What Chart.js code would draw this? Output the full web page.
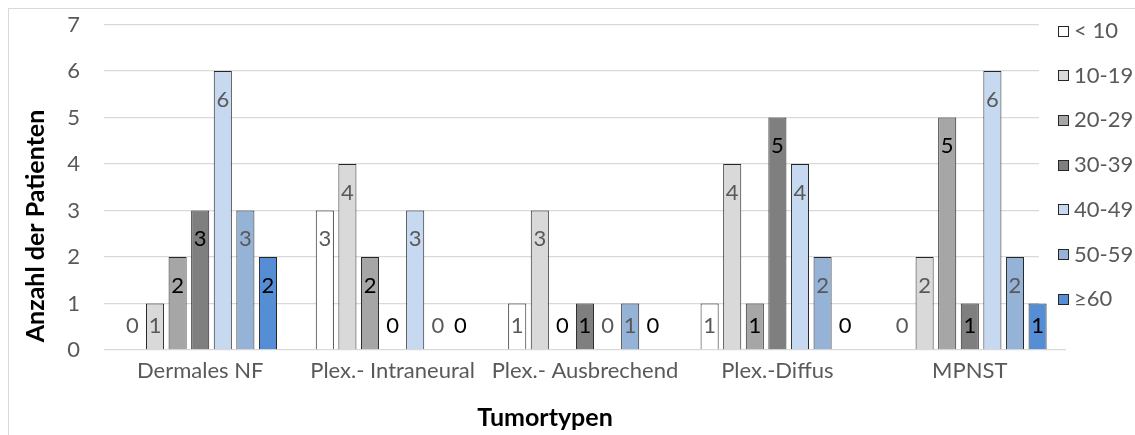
<!DOCTYPE html>
<html>
<head>
<meta charset="utf-8">
<script src="https://cdn.jsdelivr.net/npm/chart.js@4/dist/chart.umd.min.js"></script>
<style>
  html, body { margin: 0; padding: 0; background: #fff; }
  #wrap { width: 1135px; height: 435px; position: relative; }
</style>
</head>
<body>
<div id="wrap"><canvas id="c" width="1135" height="435"></canvas></div>
<script>
// Tumour types on the x axis
const categories = ['Dermales NF', 'Plex.- Intraneural', 'Plex.- Ausbrechend', 'Plex.-Diffus', 'MPNST'];
// Age groups (one series each)
const ageGroups = ['< 10', '10-19', '20-29', '30-39', '40-49', '50-59', '≥60'];
// Number of patients per tumour type, by age group
const under10   = [0, 3, 1, 1, 0];
const age10to19 = [1, 4, 3, 4, 2];
const age20to29 = [2, 2, 0, 1, 5];
const age30to39 = [3, 0, 1, 5, 1];
const age40to49 = [6, 3, 0, 4, 6];
const age50to59 = [3, 0, 1, 2, 2];
const age60plus = [2, 0, 0, 0, 1];
// Value axis
const yMin = 0;
const yMax = 7;
const yStep = 1;

const seriesValues = [under10, age10to19, age20to29, age30to39, age40to49, age50to59, age60plus];
const fills = ['#ffffff', '#d9d9d9', '#a6a6a6', '#7f7f7f', '#c6d9f1', '#95b3d7', '#558ed5'];
const labelColors = ['#595959', '#595959', '#000000', '#000000', '#595959', '#595959', '#000000'];

const FONT = 'Lato, "Open Sans", sans-serif';
const TEXT_SIZE = 22;
const TITLE_SIZE = 25;

// white background plus the thin outer frame
const framePlugin = {
  id: 'frame',
  beforeDraw(chart) {
    const { ctx, width, height } = chart;
    ctx.save();
    ctx.fillStyle = '#ffffff';
    ctx.fillRect(0, 0, width, height);
    ctx.strokeStyle = '#d9d9d9';
    ctx.lineWidth = 1;
    ctx.strokeRect(8.5, 8.5, width + 20, height + 20);
    ctx.restore();
  }
};

// legend panel sits over the grid but beneath the bars
const legendBox = { x: 1039, y: 12, w: 96, h: 318 };
const legendBgPlugin = {
  id: 'legendBg',
  beforeDatasetsDraw(chart) {
    const { ctx } = chart;
    ctx.save();
    ctx.fillStyle = '#ffffff';
    ctx.fillRect(legendBox.x, legendBox.y, legendBox.w, legendBox.h);
    ctx.restore();
  }
};

// value labels near the top inside each bar
const valueLabelPlugin = {
  id: 'valueLabels',
  afterDatasetsDraw(chart) {
    const { ctx } = chart;
    const base = chart.scales.y.getPixelForValue(0);
    ctx.save();
    ctx.font = TEXT_SIZE + 'px ' + FONT;
    ctx.textAlign = 'center';
    ctx.textBaseline = 'middle';
    chart.data.datasets.forEach((ds, i) => {
      const meta = chart.getDatasetMeta(i);
      ctx.fillStyle = labelColors[i];
      meta.data.forEach((bar, j) => {
        const y = Math.min(bar.y + 28.5, base - 24.5);
        ctx.fillText(String(ds.data[j]), bar.x, y);
      });
    });
    ctx.restore();
  }
};

// legend entries and axis titles
const annotationPlugin = {
  id: 'annotations',
  afterDraw(chart) {
    const { ctx } = chart;
    ctx.save();
    // legend
    ctx.font = TEXT_SIZE + 'px ' + FONT;
    ctx.textAlign = 'left';
    ctx.textBaseline = 'middle';
    chart.data.datasets.forEach((ds, i) => {
      const cy = 31 + i * 44.7;
      ctx.fillStyle = ds.backgroundColor;
      ctx.fillRect(1058, Math.round(cy - 5.5), 11, 11);
      ctx.strokeStyle = '#262626';
      ctx.lineWidth = 1;
      ctx.strokeRect(1058.5, Math.round(cy - 5.5) + 0.5, 10, 10);
      ctx.fillStyle = '#595959';
      ctx.fillText(ds.label, 1074, cy);
    });
    // axis titles
    ctx.fillStyle = '#000000';
    ctx.font = 'bold ' + TITLE_SIZE + 'px ' + FONT;
    ctx.textAlign = 'center';
    ctx.textBaseline = 'middle';
    ctx.fillText('Tumortypen', 545, 418);
    ctx.translate(36, 226);
    ctx.rotate(-Math.PI / 2);
    ctx.fillText('Anzahl der Patienten', 0, 0);
    ctx.restore();
  }
};

new Chart(document.getElementById('c'), {
  type: 'bar',
  data: {
    labels: categories,
    datasets: seriesValues.map((values, i) => ({
      label: ageGroups[i],
      data: values,
      backgroundColor: fills[i],
      borderColor: '#262626',
      borderWidth: 1,
      inflateAmount: 0,
      barPercentage: 0.8,
      categoryPercentage: 0.822
    }))
  },
  options: {
    responsive: false,
    animation: false,
    devicePixelRatio: 1,
    layout: { padding: { left: 0, right: 69, top: 24.5, bottom: 0 } },
    plugins: { legend: { display: false }, tooltip: { enabled: false } },
    scales: {
      x: {
        grid: { display: false, drawTicks: false },
        border: { display: false },
        ticks: { color: '#595959', font: { family: FONT, size: TEXT_SIZE }, padding: 8, maxRotation: 0, autoSkip: false },
        afterFit(scale) { scale.height = 85; }
      },
      y: {
        min: yMin,
        max: yMax,
        ticks: { stepSize: yStep, color: '#595959', font: { family: FONT, size: TEXT_SIZE }, padding: 24 },
        grid: { color: '#d9d9d9', lineWidth: 1.3, drawTicks: false },
        border: { display: false },
        afterFit(scale) {
          scale.width = 104;
          scale.paddingTop = 0;
          scale.paddingBottom = 0;
        }
      }
    }
  },
  plugins: [framePlugin, legendBgPlugin, valueLabelPlugin, annotationPlugin]
});
</script>
</body>
</html>
